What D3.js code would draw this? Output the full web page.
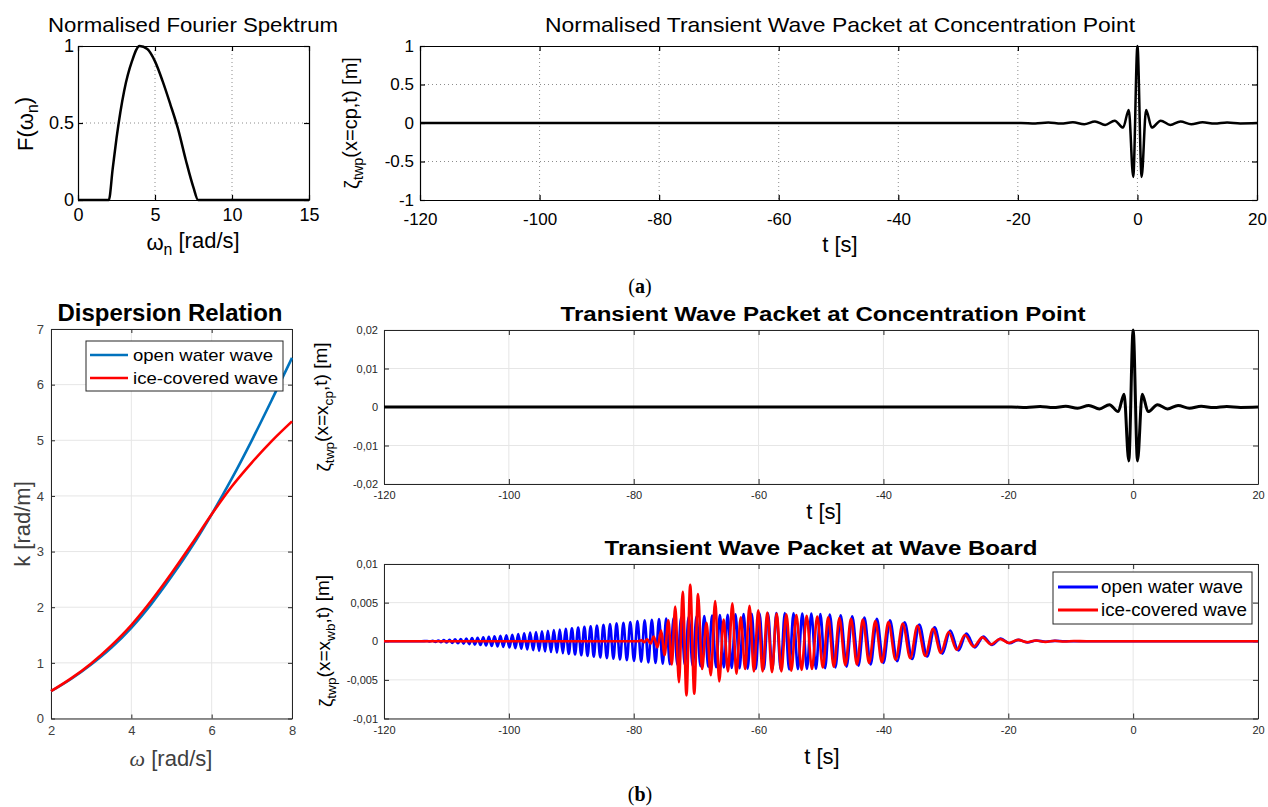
<!DOCTYPE html>
<html>
<head>
<meta charset="utf-8">
<script src="https://cdn.jsdelivr.net/npm/d3@7"></script>
<style>
body { margin: 0; background: #fff; }
svg { display: block; }
</style>
</head>
<body>
<svg id="fig" width="1268" height="807"></svg>
<script>
// ---------- data ----------

// (a) left: normalised spectrum
const spectrumW = [0, 2, 2.25, 2.5, 2.75, 3, 3.5, 4, 4.5, 5, 5.5, 6, 6.5, 7, 7.5, 7.8, 15];
const spectrumF = [0, 0, 0.2, 0.4, 0.57, 0.71, 0.9, 1.0, 0.98, 0.9, 0.77, 0.62, 0.46, 0.26, 0.08, 0, 0];

// concentration point signal (extrema), normalised (a) and in metres (b)
const cpT = [-120, -19.5, -17.1, -14.9, -12.8, -10.8, -8.9, -7.1, -5.4, -3.8, -2.4, -1.45, -0.7, 0,
             0.7, 1.45, 2.4, 3.9, 5.5, 7.2, 9.0, 10.9, 12.9, 15.0, 17.2, 20];
const cpNormZ = [0, 0, -0.005, 0.006, -0.008, 0.01, -0.015, 0.02, -0.025, 0.03, -0.06, 0.17, -0.7, 1,
                 -0.7, 0.17, -0.06, 0.03, -0.025, 0.02, -0.015, 0.01, -0.008, 0.006, -0.005, 0];
const cpZ = [0, 0, -0.0001, 0.00012, -0.00016, 0.0002, -0.0003, 0.0004, -0.0005, 0.0006, -0.0012, 0.0033, -0.014, 0.02,
             -0.014, 0.0033, -0.0012, 0.0006, -0.0005, 0.0004, -0.0003, 0.0002, -0.00016, 0.00012, -0.0001, 0];

// (b) left: dispersion relation
const omega = [2, 2.5, 3, 3.5, 4, 4.5, 5, 5.5, 6, 6.5, 7, 7.5, 8];
const kOpen = [0.49, 0.71, 0.97, 1.27, 1.63, 2.06, 2.55, 3.08, 3.67, 4.31, 5.0, 5.73, 6.48];
const kIce  = [0.49, 0.72, 0.99, 1.31, 1.68, 2.12, 2.61, 3.13, 3.67, 4.17, 4.6, 4.99, 5.34];

// wave board signal, open water (blue): crests and troughs
const openFlatT = [-120, -114, -11, 20];
const openCrestT = [-113.1, -112.2, -111.3, -110.4, -109.5, -108.6, -107.7, -106.8, -105.9, -105.0, -104.1, -103.2, -102.3, -101.35,
  -100.4, -99.45, -98.5, -97.55, -96.6, -95.65, -94.7, -93.75, -92.8, -91.85, -90.9,
  -89.9, -88.9, -87.9, -86.9, -85.9, -84.85, -83.8, -82.75, -81.65, -80.55,
  -79.4, -78.25, -77.1, -75.95, -74.8, -73.6, -72.4, -71.2, -69.95, -68.7,
  -67.45, -66.2, -64.95, -63.7, -62.4, -61.1, -59.85, -58.5, -57.15, -55.8,
  -54.4, -53.0, -51.55, -50.1, -48.6, -46.85, -45.0, -43.05, -41.05, -38.95,
  -36.6, -34.25, -31.8, -29.3, -26.7, -24.0, -21.2, -18.4, -15.5, -12.5];
const openCrestZ = [0.00003, 0.00006, 0.0001, 0.00014, 0.00019, 0.00024, 0.00029, 0.00034, 0.0004, 0.00046, 0.00052, 0.00058, 0.00064, 0.0007,
  0.00076, 0.00085, 0.00094, 0.00103, 0.00112, 0.0012, 0.00128, 0.00136, 0.00144, 0.00152, 0.0016,
  0.00168, 0.00177, 0.00186, 0.00195, 0.00204, 0.00213, 0.00222, 0.00231, 0.0024, 0.0025,
  0.0026, 0.0027, 0.00278, 0.00286, 0.00294, 0.003, 0.00307, 0.00314, 0.0032, 0.00327,
  0.00333, 0.00338, 0.00343, 0.00348, 0.00352, 0.00356, 0.0036, 0.00362, 0.00364, 0.00364,
  0.00363, 0.0036, 0.00357, 0.00352, 0.00345, 0.00335, 0.00322, 0.00308, 0.0029, 0.0027,
  0.00245, 0.00215, 0.0018, 0.0014, 0.001, 0.0006, 0.00035, 0.00018, 0.0001, 0.00005];
const openTroughT = [-112.65, -111.75, -110.85, -109.95, -109.05, -108.15, -107.25, -106.35, -105.45, -104.55, -103.65, -102.75, -101.8, -100.9,
  -99.9, -98.95, -98.0, -97.05, -96.1, -95.15, -94.2, -93.25, -92.3, -91.35, -90.4,
  -89.4, -88.4, -87.4, -86.4, -85.35, -84.3, -83.25, -82.2, -81.1, -79.95,
  -78.8, -77.65, -76.5, -75.35, -74.2, -73.0, -71.8, -70.55, -69.3, -68.05,
  -66.8, -65.55, -64.3, -63.05, -61.75, -60.45, -59.15, -57.8, -56.45, -55.1,
  -53.7, -52.25, -50.8, -49.35, -47.7, -45.9, -44.0, -42.05, -40.0, -37.8,
  -35.4, -33.0, -30.55, -28.0, -25.35, -22.6, -19.8, -16.95, -14.0];
const openTroughZ = [-0.00004, -0.00008, -0.00012, -0.00016, -0.00021, -0.00026, -0.00031, -0.00037, -0.00043, -0.00049, -0.00055, -0.00061, -0.00067, -0.00073,
  -0.0008, -0.0009, -0.00098, -0.00107, -0.00116, -0.00124, -0.00132, -0.0014, -0.00148, -0.00156, -0.00164,
  -0.00172, -0.00181, -0.0019, -0.002, -0.00209, -0.00218, -0.00227, -0.00236, -0.00245, -0.00255,
  -0.00265, -0.00274, -0.00282, -0.0029, -0.00297, -0.00304, -0.0031, -0.00317, -0.00324, -0.0033,
  -0.00336, -0.0034, -0.00346, -0.0035, -0.00354, -0.00358, -0.00361, -0.00363, -0.00364, -0.00364,
  -0.00362, -0.00358, -0.00355, -0.00349, -0.0034, -0.00328, -0.00315, -0.003, -0.0028, -0.00258,
  -0.0023, -0.00198, -0.0016, -0.0012, -0.0008, -0.00047, -0.00026, -0.00014, -0.00007];

// wave board signal, ice-covered (red): crests and troughs
const iceFlatT = [-120, -79.3, -7.5, 20];
const iceCrestT = [-78.75, -77.85, -76.8, -75.6, -74.45, -73.35, -72.15, -70.95, -69.7, -68.35,
  -66.95, -65.6, -64.2, -62.85, -61.45, -60.05, -58.6, -57.1, -55.55, -53.95,
  -52.3, -50.6, -48.85, -47.05, -45.2, -43.3, -41.3, -39.2, -36.9, -34.55,
  -32.05, -29.55, -26.95, -24.15, -21.35, -18.45, -15.55, -12.55, -9.5];
const iceCrestZ = [0.00012, 0.00025, 0.0006, 0.0014, 0.0027, 0.0045, 0.0064, 0.0073, 0.0061, 0.0024,
  0.0052, 0.0028, 0.0049, 0.0031, 0.0046, 0.004, 0.0037, 0.0036, 0.0035, 0.0034,
  0.0033, 0.0032, 0.0031, 0.003, 0.0029, 0.0028, 0.0026, 0.0025, 0.0023, 0.002,
  0.0016, 0.0012, 0.0008, 0.0005, 0.0003, 0.00018, 0.0001, 0.00006, 0.00003];
const iceTroughT = [-78.3, -77.3, -76.2, -75.05, -73.9, -72.75, -71.55, -70.3, -69.05, -67.65,
  -66.3, -64.9, -63.55, -62.15, -60.75, -59.35, -57.85, -56.35, -54.75, -53.1,
  -51.45, -49.7, -47.95, -46.1, -44.25, -42.3, -40.25, -38.05, -35.7, -33.3,
  -30.8, -28.25, -25.55, -22.75, -19.9, -17.0, -14.05, -11.0];
const iceTroughZ = [-0.00012, -0.0003, -0.0008, -0.0018, -0.003, -0.0053, -0.007, -0.0068, -0.0036, -0.0044,
  -0.0052, -0.0039, -0.0042, -0.0036, -0.0039, -0.0039, -0.004, -0.0039, -0.0038, -0.0037,
  -0.0036, -0.0034, -0.0033, -0.0031, -0.003, -0.0028, -0.0027, -0.0024, -0.0022, -0.0019,
  -0.0015, -0.0011, -0.0007, -0.0004, -0.00022, -0.00013, -0.00008, -0.00004];

// ticks
const specTicksX = [0, 5, 10, 15];
const specTicksY = [0, 0.5, 1];
const specLabelsY = ["0", "0.5", "1"];
const timeTicks = [-120, -100, -80, -60, -40, -20, 0, 20];
const normTicksY = [-1, -0.5, 0, 0.5, 1];
const normLabelsY = ["-1", "-0.5", "0", "0.5", "1"];
const dispTicksX = [2, 4, 6, 8];
const dispTicksY = [0, 1, 2, 3, 4, 5, 6, 7];
const cpTicksY = [-0.02, -0.01, 0, 0.01, 0.02];
const cpLabelsY = ["-0,02", "-0,01", "0", "0,01", "0,02"];
const wbTicksY = [-0.01, -0.005, 0, 0.005, 0.01];
const wbLabelsY = ["-0,01", "-0,005", "0", "0,005", "0,01"];
const legendNames = ["open water wave", "ice-covered wave"];

// ---------- drawing ----------
const svg = d3.select("#fig");
const SANS = "'Liberation Sans', Arial, Helvetica, sans-serif";
const NARROW = "'Liberation Sans Narrow', 'Liberation Sans', Arial, sans-serif";

function frame(x, y, o) {
  const g = svg.append("g");
  const [xa, xb] = x.range(), [yb, ya] = y.range();
  g.append("g").selectAll("line").data(o.xGrid).join("line")
    .attr("x1", d => x(d)).attr("x2", d => x(d)).attr("y1", ya).attr("y2", yb)
    .attr("stroke", o.gridColor).attr("stroke-width", 1).attr("stroke-dasharray", o.gridDash);
  g.append("g").selectAll("line").data(o.yGrid).join("line")
    .attr("y1", d => y(d)).attr("y2", d => y(d)).attr("x1", xa).attr("x2", xb)
    .attr("stroke", o.gridColor).attr("stroke-width", 1).attr("stroke-dasharray", o.gridDash);

  const style = s => {
    s.attr("font-family", o.font).attr("font-size", o.fontSize);
    s.selectAll("path,line").attr("stroke", o.axisColor).attr("stroke-width", o.axisWidth);
    s.selectAll("text").attr("fill", o.textColor);
  };
  g.append("g").attr("transform", `translate(0,${yb})`)
    .call(d3.axisBottom(x).tickValues(o.xTicks).tickFormat((d, i) => o.xLabels[i])
      .tickSizeInner(-o.tick).tickSizeOuter(0).tickPadding(o.xPad)).call(style);
  g.append("g").attr("transform", `translate(0,${ya})`)
    .call(d3.axisTop(x).tickValues(o.xTicks).tickFormat("").tickSizeInner(-o.tick).tickSizeOuter(0)).call(style);
  g.append("g").attr("transform", `translate(${xa},0)`)
    .call(d3.axisLeft(y).tickValues(o.yTicks).tickFormat((d, i) => o.yLabels[i])
      .tickSizeInner(-o.tick).tickSizeOuter(0).tickPadding(o.yPad)).call(style);
  g.append("g").attr("transform", `translate(${xb},0)`)
    .call(d3.axisRight(y).tickValues(o.yTicks).tickFormat("").tickSizeInner(-o.tick).tickSizeOuter(0)).call(style);
  return g;
}

function curve(g, x, y, pts, color, width) {
  g.append("path").datum(pts)
    .attr("d", d3.line().x(d => x(d[0])).y(d => y(d[1])).curve(d3.curveMonotoneX))
    .attr("fill", "none").attr("stroke", color).attr("stroke-width", width)
    .attr("stroke-linejoin", "round");
}

function packet(flatT, crestT, crestZ, troughT, troughZ) {
  const pts = flatT.map(t => [t, 0]);
  crestT.forEach((t, i) => pts.push([t, crestZ[i]]));
  troughT.forEach((t, i) => pts.push([t, troughZ[i]]));
  return pts.sort((a, b) => a[0] - b[0]);
}

// label with optional subscripts: parts = [[text, isSub, style], ...]
function label(x, y, parts, o) {
  const t = svg.append("text")
    .attr("x", x).attr("y", y)
    .attr("text-anchor", "middle")
    .attr("font-family", o.font).attr("font-size", o.size)
    .attr("fill", o.color || "#000")
    .attr("font-weight", o.weight || "normal");
  if (o.rotate) t.attr("transform", `rotate(-90,${x},${y})`);
  if (o.length) t.attr("textLength", o.length).attr("lengthAdjust", "spacingAndGlyphs");
  let shifted = false;
  parts.forEach(([s, sub, st]) => {
    const span = t.append("tspan").text(s);
    if (sub && !shifted) { span.attr("dy", "0.3em").attr("font-size", o.size * 0.72); shifted = true; }
    else if (sub) span.attr("font-size", o.size * 0.72);
    else if (shifted) { span.attr("dy", "-0.3em"); shifted = false; }
    if (st) span.attr("font-style", st.style || null).attr("font-family", st.family || null);
  });
  return t;
}

const oldStyle = {
  font: SANS, fontSize: 18, axisColor: "#000", axisWidth: 1.2, textColor: "#000",
  gridColor: "#8c8c8c", gridDash: "1,3", tick: 5
};

// ---- (a) left: spectrum
{
  const x = d3.scaleLinear([0, 15], [78, 309]);
  const y = d3.scaleLinear([0, 1], [200, 46]);
  const g = frame(x, y, Object.assign({}, oldStyle, {
    xTicks: specTicksX, xLabels: specTicksX.map(String), xGrid: [5, 10],
    yTicks: specTicksY, yLabels: specLabelsY, yGrid: [0.5], xPad: 8, yPad: 4
  }));
  curve(g, x, y, spectrumW.map((w, i) => [w, spectrumF[i]]), "#000", 2.5);
  label(193, 32, [["Normalised Fourier Spektrum"]], { font: SANS, size: 21, length: 290 });
  label(193, 250, [["ω"], ["n", true], [" [rad/s]"]], { font: SANS, size: 22 });
  label(33, 124, [["F(ω"], ["n", true], [")"]], { font: SANS, size: 22, rotate: true });
}

// ---- (a) right: normalised packet at concentration point
{
  const x = d3.scaleLinear([-120, 20], [420, 1257]);
  const y = d3.scaleLinear([-1, 1], [200, 46]);
  const g = frame(x, y, Object.assign({}, oldStyle, {
    fontSize: 17,
    xTicks: timeTicks, xLabels: timeTicks.map(String), xGrid: timeTicks.slice(1, -1),
    yTicks: normTicksY, yLabels: normLabelsY, yGrid: [-0.5, 0.5], xPad: 13, yPad: 6
  }));
  curve(g, x, y, cpT.map((t, i) => [t, cpNormZ[i]]), "#000", 2.5);
  label(840, 32, [["Normalised Transient Wave Packet at Concentration Point"]], { font: SANS, size: 21, length: 590 });
  label(840, 252, [["t [s]"]], { font: SANS, size: 22 });
  label(359, 123, [["ζ"], ["twp", true], ["(x=cp,t) [m]"]], { font: SANS, size: 20, rotate: true });
}

// (a) / (b) captions
[["(a)", 640, 293], ["(b)", 640, 801]].forEach(([s, cx, cy]) => {
  const t = svg.append("text").attr("x", cx).attr("y", cy).attr("text-anchor", "middle")
    .attr("font-family", "'Liberation Serif', 'Times New Roman', serif").attr("font-size", 20);
  t.append("tspan").text("(");
  t.append("tspan").attr("font-weight", "bold").text(s[1]);
  t.append("tspan").text(")");
});

// ---- (b) left: dispersion relation
{
  const x = d3.scaleLinear([2, 8], [51, 292]);
  const y = d3.scaleLinear([0, 7], [718.5, 329]);
  const g = frame(x, y, {
    font: SANS, fontSize: 13, axisColor: "#262626", axisWidth: 1, textColor: "#404040",
    gridColor: "#e6e6e6", gridDash: null, tick: 4,
    xTicks: dispTicksX, xLabels: dispTicksX.map(String), xGrid: dispTicksX,
    yTicks: dispTicksY, yLabels: dispTicksY.map(String), yGrid: dispTicksY, xPad: 7, yPad: 7
  });
  const colors = ["#0072bd", "#ff0000"];
  curve(g, x, y, omega.map((w, i) => [w, kOpen[i]]), colors[0], 2.6);
  curve(g, x, y, omega.map((w, i) => [w, kIce[i]]), colors[1], 2.6);

  const lg = svg.append("g");
  lg.append("rect").attr("x", 86).attr("y", 341).attr("width", 197).attr("height", 50)
    .attr("fill", "#fff").attr("stroke", "#262626").attr("stroke-width", 1);
  legendNames.forEach((n, i) => {
    const yy = 355 + i * 23;
    lg.append("line").attr("x1", 90).attr("x2", 128).attr("y1", yy).attr("y2", yy)
      .attr("stroke", colors[i]).attr("stroke-width", 2.6);
    lg.append("text").attr("x", 133).attr("y", yy + 6).attr("font-family", SANS)
      .attr("font-size", 17).attr("fill", "#000").text(n)
      .attr("textLength", i ? 145 : 140).attr("lengthAdjust", "spacingAndGlyphs");
  });
  label(170, 321, [["Dispersion Relation"]], { font: SANS, size: 23, weight: "bold", length: 225 });
  label(171, 766, [["ω", false, { style: "italic", family: "'Liberation Serif', serif" }], [" [rad/s]"]],
    { font: SANS, size: 22, color: "#404040" });
  label(30, 524, [["k [rad/m]"]], { font: SANS, size: 22, color: "#404040", rotate: true });
}

const newStyle = {
  font: NARROW, fontSize: 11, axisColor: "#262626", axisWidth: 1, textColor: "#262626",
  gridColor: "#e6e6e6", gridDash: null, tick: 5
};

// ---- (b) right top: packet at concentration point
{
  const x = d3.scaleLinear([-120, 20], [384, 1258]);
  const y = d3.scaleLinear([-0.02, 0.02], [484, 330]);
  const g = frame(x, y, Object.assign({}, newStyle, {
    xTicks: timeTicks, xLabels: timeTicks.map(String), xGrid: timeTicks,
    yTicks: cpTicksY, yLabels: cpLabelsY, yGrid: cpTicksY, xPad: 7, yPad: 6
  }));
  curve(g, x, y, cpT.map((t, i) => [t, cpZ[i]]), "#000", 3);
  label(823, 321, [["Transient Wave Packet at Concentration Point"]], { font: SANS, size: 20, weight: "bold", length: 525 });
  label(824, 519, [["t [s]"]], { font: NARROW, size: 22 });
  label(330, 407, [["ζ"], ["twp", true], ["(x=x"], ["cp", true], [",t) [m]"]], { font: SANS, size: 19, rotate: true });
}

// ---- (b) right bottom: packet at wave board
{
  const x = d3.scaleLinear([-120, 20], [384, 1258]);
  const y = d3.scaleLinear([-0.01, 0.01], [718.5, 564]);
  const g = frame(x, y, Object.assign({}, newStyle, {
    xTicks: timeTicks, xLabels: timeTicks.map(String), xGrid: timeTicks,
    yTicks: wbTicksY, yLabels: wbLabelsY, yGrid: wbTicksY, xPad: 8, yPad: 6
  }));
  const colors = ["#0000ff", "#ff0000"];
  curve(g, x, y, packet(openFlatT, openCrestT, openCrestZ, openTroughT, openTroughZ), colors[0], 2.6);
  curve(g, x, y, packet(iceFlatT, iceCrestT, iceCrestZ, iceTroughT, iceTroughZ), colors[1], 2.6);

  const lg = svg.append("g");
  lg.append("rect").attr("x", 1053).attr("y", 572).attr("width", 199).attr("height", 52)
    .attr("fill", "#fff").attr("stroke", "#262626").attr("stroke-width", 1);
  legendNames.forEach((n, i) => {
    const yy = 587 + i * 23;
    lg.append("line").attr("x1", 1058).attr("x2", 1098).attr("y1", yy).attr("y2", yy)
      .attr("stroke", colors[i]).attr("stroke-width", 3);
    lg.append("text").attr("x", 1101).attr("y", yy + 6).attr("font-family", NARROW)
      .attr("font-size", 18).attr("fill", "#000").text(n)
      .attr("textLength", i ? 146 : 142).attr("lengthAdjust", "spacingAndGlyphs");
  });
  label(821, 555, [["Transient Wave Packet at Wave Board"]], { font: SANS, size: 20, weight: "bold", length: 433 });
  label(822, 764, [["t [s]"]], { font: NARROW, size: 22 });
  label(332, 641, [["ζ"], ["twp", true], ["(x=x"], ["wb", true], [",t) [m]"]], { font: SANS, size: 19, rotate: true });
}
</script>
</body>
</html>
